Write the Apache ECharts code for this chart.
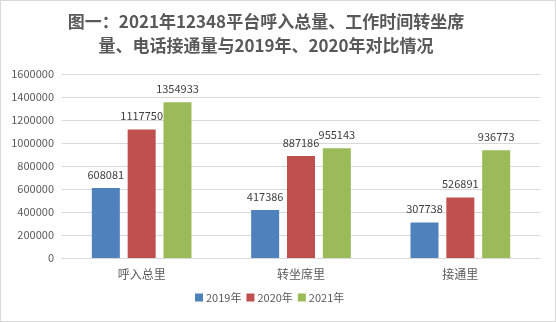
<!DOCTYPE html>
<html>
<head>
<meta charset="utf-8">
<script src="https://cdn.jsdelivr.net/npm/echarts@6/dist/echarts.min.js"></script>
<style>
  html, body { margin: 0; padding: 0; background: #fff; }
  #chart { width: 556px; height: 322px; box-sizing: border-box; border: 1px solid #d9d9d9; }
</style>
</head>
<body>
<div id="chart"></div>
<script>
// Call volume, seat transfers and connected calls, 2019–2021
const categories = ['呼入总里', '转坐席里', '接通里'];
const years = ['2019年', '2020年', '2021年'];
const values2019 = [608081, 417386, 307738];
const values2020 = [1117750, 887186, 526891];
const values2021 = [1354933, 955143, 936773];
const yTicks = { min: 0, max: 1600000, interval: 200000 };

const colors = ['#4F81BD', '#C0504D', '#9BBB59'];
const font = '"Microsoft YaHei", "Noto Sans CJK SC", sans-serif';

const chart = echarts.init(document.getElementById('chart'));
const makeSeries = (name, data, color) => ({
  name, type: 'bar', data,
  barWidth: 28, barGap: '28%',
  itemStyle: { color },
  label: {
    show: true, position: 'top', distance: 8,
    color: '#404040', fontSize: 11, fontFamily: font
  }
});

chart.setOption({
  animation: false,
  title: {
    text: '图一：2021年12348平台呼入总量、工作时间转坐席\n量、电话接通量与2019年、2020年对比情况',
    left: 260, top: 4, textAlign: 'center',
    textStyle: { fontSize: 17, fontWeight: 'bold', color: '#595959', fontFamily: font, lineHeight: 24 }
  },
  legend: {
    bottom: 13, left: 189,
    itemWidth: 8, itemHeight: 8, itemGap: 5,
    icon: 'rect',
    textStyle: { fontSize: 11, color: '#595959', fontFamily: font, padding: [0, 0, 0, -2] },
    data: years
  },
  grid: { left: 61, right: 15, top: 73, bottom: 63, containLabel: false },
  xAxis: {
    type: 'category', data: categories,
    axisLine: { lineStyle: { color: '#d9d9d9' } },
    axisTick: { show: false },
    axisLabel: { fontSize: 12, color: '#595959', fontFamily: font, margin: 10 }
  },
  yAxis: {
    type: 'value', min: yTicks.min, max: yTicks.max, interval: yTicks.interval,
    axisLine: { show: false }, axisTick: { show: false },
    splitLine: { lineStyle: { color: '#d9d9d9' } },
    axisLabel: { fontSize: 11, color: '#595959', fontFamily: font, margin: 8, formatter: v => String(v) }
  },
  series: [
    makeSeries(years[0], values2019, colors[0]),
    makeSeries(years[1], values2020, colors[1]),
    makeSeries(years[2], values2021, colors[2])
  ]
});
</script>
</body>
</html>
